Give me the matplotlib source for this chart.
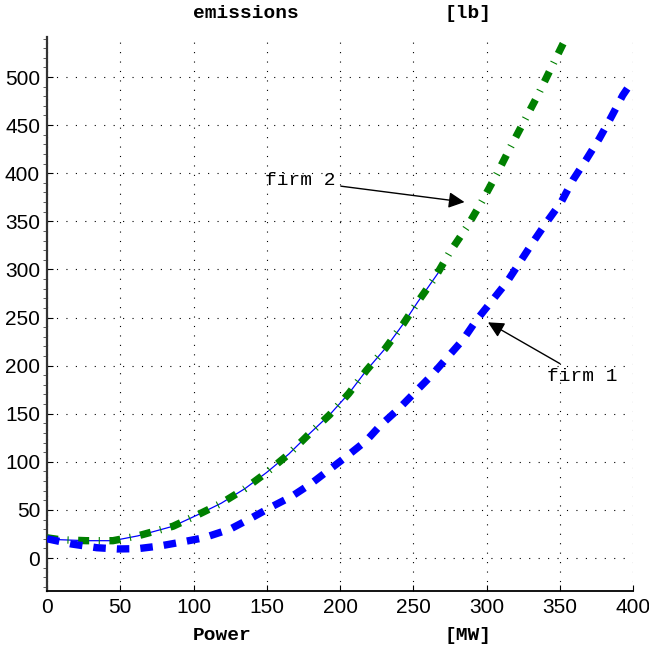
import matplotlib
matplotlib.use("Agg")
import matplotlib.pyplot as plt
from matplotlib.ticker import MultipleLocator

# values (MW -> lb)
firm1_x = [0, 17, 34, 48, 62, 77, 92, 107, 125, 140, 153, 167, 180, 192, 204, 218,
           227, 240, 251, 262, 273, 284, 293, 303, 314, 323, 332, 341, 351, 359,
           368, 377, 385, 393, 397]
firm1_y = [20, 14.5, 10.7, 9.4, 9.7, 12.5, 16.6, 21, 30, 42, 53, 64, 77, 91, 105, 122,
           137, 155, 172, 189, 208, 227, 247, 266, 287, 308, 329, 349, 370, 393,
           414, 436, 458, 481, 490]

firm2_x = [0, 9, 27, 45, 62, 86, 103, 119, 135, 150, 165, 179, 193, 206, 218, 231,
           243, 253, 265, 275, 287, 297, 307, 316, 326, 335, 344, 355]
firm2_y = [21, 19, 18, 18, 23, 33, 45, 57, 72, 89, 108, 129, 149, 171, 195, 218,
           243, 266, 292, 318, 345, 371, 399, 426, 455, 481, 509, 543]

# thin blue trace that follows firm 2 up to ~271 MW
trace_x = firm2_x[:19] + [271]
trace_y = firm2_y[:19] + [305]

x_ticks = [0, 50, 100, 150, 200, 250, 300, 350, 400]
y_ticks = [0, 50, 100, 150, 200, 250, 300, 350, 400, 450, 500]

plt.rcParams['font.family'] = ['Liberation Sans Narrow', 'Liberation Sans', 'DejaVu Sans']
mono = ['Liberation Mono', 'DejaVu Sans Mono']

W, H = 649, 647
fig = plt.figure(figsize=(W / 100, H / 100), dpi=100)
ax = fig.add_axes([47 / W, 56 / H, 586 / W, 554 / H])

ax.plot(trace_x, trace_y, color='#0000ff', lw=0.9, zorder=3)
ax.plot(firm2_x, firm2_y, color='#008000', lw=5.3,
        linestyle=(0, (1.5, 1.3, 0.15, 1.3)), zorder=4)
ax.plot(firm1_x, firm1_y, color='#0000ff', lw=5.3,
        linestyle=(0, (1.7, 1.5)), zorder=4)

ax.set_xlim(0, 400)
ax.set_ylim(-34.3, 541.6)
ax.set_xticks(x_ticks)
ax.set_yticks(y_ticks)
ax.yaxis.set_minor_locator(MultipleLocator(10))
ax.tick_params(axis='both', which='major', direction='in', length=4, labelsize=15, pad=5)
ax.tick_params(axis='y', which='minor', direction='out', length=3, color='#444444')

ax.grid(True, which='major', color='k', linestyle=(0, (1, 7.5)), linewidth=0.8)
for s in ['top', 'right']:
    ax.spines[s].set_visible(False)
ax.spines['left'].set_linewidth(1.6)
ax.spines['left'].set_color('#333333')
ax.spines['bottom'].set_linewidth(1.3)

# title and x label, MATLAB-style with the unit pushed to the right
bold_mono = dict(family=mono, fontweight='bold', fontsize=14, va='center', ha='left')
fig.text(193 / W, 1 - 14 / H, 'emissions', **bold_mono)
fig.text(445 / W, 1 - 14 / H, '[lb]', **bold_mono)
fig.text(193 / W, 1 - 635 / H, 'Power', **bold_mono)
fig.text(445 / W, 1 - 635 / H, '[MW]', **bold_mono)

arrow = dict(arrowstyle='-|>', color='k', lw=1, mutation_scale=24, shrinkA=2, shrinkB=0)
ax.annotate('firm 2', xy=(285, 370), xytext=(148.7, 392), family=mono, fontsize=14,
            va='center', ha='left', arrowprops=arrow)
ax.annotate('firm 1', xy=(301, 245), xytext=(341, 189), family=mono, fontsize=14,
            va='center', ha='left', arrowprops=arrow)

fig.savefig('out.png', dpi=100)
